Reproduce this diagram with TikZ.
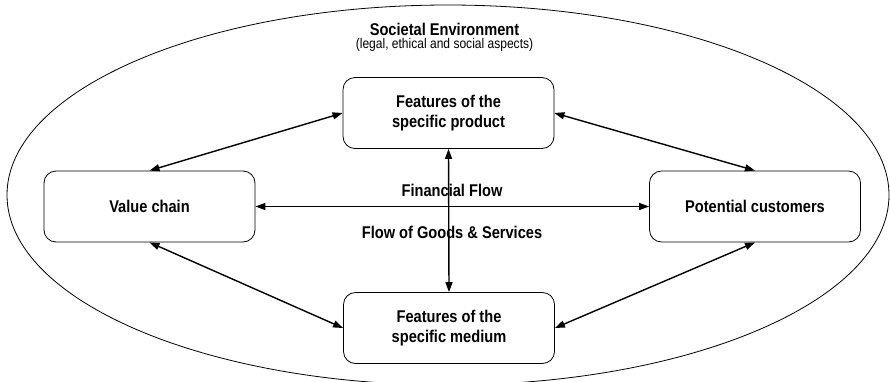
\documentclass[tikz,border=0pt]{standalone}
\usepackage{fontspec}
\setmainfont{Liberation Sans}[FakeStretch=0.86]
\usepackage{tikz}
\usetikzlibrary{arrows.meta, positioning}

\tikzset{
    box/.style={draw, line width=0.8pt, rounded corners=12pt, fill=white, align=center,
        font=\bfseries, minimum width=211pt, minimum height=71pt},
    flow/.style={<->, line width=1.4pt},
    flowlabel/.style={font=\bfseries}
}

\begin{document}
\begin{tikzpicture}[x=1pt, y=-1pt, >={Triangle[length=10pt, width=7pt]}]
    \fontsize{17}{20.4}\selectfont
    \useasboundingbox (0,0) rectangle (890,381);
    \clip (0,0) rectangle (890,381);

    % Environment
    \draw[line width=0.8pt] (448,195) ellipse [x radius=441, y radius=190];
    \node[font=\bfseries, inner sep=1pt] (env) at (444.5,29) {Societal Environment};
    \node[font=\fontsize{14}{16}\selectfont, inner sep=1pt, below=1pt of env] (aspects) {(legal, ethical and social aspects)};

    % Boxes
    \node[box] (product) at (448.5,113) {Features of the\\specific product};
    \node[box] (medium) at (449,328) {Features of the\\specific medium};
    \node[box] (chain) at (149.5,206.5) {Value chain};
    \node[box] (customers) at (755,206.5) {Potential customers};

    % Flows
    \draw[flow] (chain.north) -- (product.west);
    \draw[flow] (product.east) -- (customers.north);
    \draw[flow] (chain.south) -- (medium.west);
    \draw[flow] (medium.east) -- (customers.south);
    \draw[flow] (chain.east) -- (customers.west);
    \draw[flow] (product.south) -- (medium.north);

    % Labels
    \node[flowlabel] (financial) at (452,190) {Financial Flow};
    \node[flowlabel] (goods) at (452,232) {Flow of Goods \& Services};
\end{tikzpicture}
\end{document}
